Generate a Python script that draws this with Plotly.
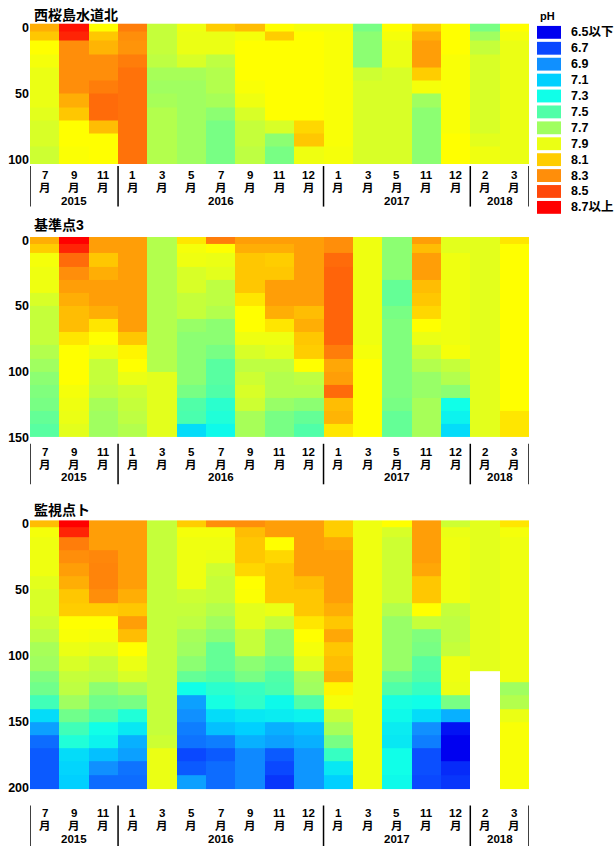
import plotly.graph_objects as go

# ---------------- data ----------------
months = ["7", "9", "11", "1", "3", "5", "7", "9", "11", "12", "1", "3", "5", "11", "12", "2", "3"]
years = ["2015"] * 3 + ["2016"] * 7 + ["2017"] * 5 + ["2018"] * 2

legend_labels = ["6.5以下", "6.7", "6.9", "7.1", "7.3", "7.5", "7.7", "7.9", "8.1", "8.3", "8.5", "8.7以上"]
legend_values = [6.5, 6.7, 6.9, 7.1, 7.3, 7.5, 7.7, 7.9, 8.1, 8.3, 8.5, 8.7]
legend_colors = ["rgb(0,0,240)", "rgb(10,72,255)", "rgb(16,144,255)", "rgb(0,208,255)",
                 "rgb(16,255,232)", "rgb(80,255,168)", "rgb(160,255,96)", "rgb(235,255,20)",
                 "rgb(255,205,0)", "rgb(255,142,10)", "rgb(255,72,10)", "rgb(255,0,0)"]

titles = ["西桜島水道北", "基準点3", "監視点ト"]

# depth cell edges (m)
depth_edges_1 = [-3, 3, 10, 20, 30, 40, 50, 60, 70, 80, 90, 103]
depth_edges_2 = [-2.5, 3, 10, 20, 30, 40, 50, 60, 70, 80, 90, 100, 110, 120, 130, 140, 150]
depth_edges_3 = [-2.5, 3, 10, 20, 30, 40, 50, 60, 70, 80, 90, 100, 112, 120, 130, 140, 150,
                 160, 170, 180, 190, 201]

# pH per sampling month (top -> bottom), 西桜島水道北
ph_1 = [
    [8.2, 8.12, 8.0, 7.95, 7.9, 7.9, 7.9, 7.88, 7.85, 7.85, 7.82],
    [8.65, 8.6, 8.3, 8.3, 8.3, 8.3, 8.2, 8.12, 8.0, 8.0, 7.98],
    [8.0, 8.12, 8.18, 8.3, 8.3, 8.35, 8.4, 8.4, 8.15, 8.0, 8.0],
    [8.35, 8.3, 8.28, 8.35, 8.38, 8.38, 8.38, 8.38, 8.38, 8.38, 8.38],
    [7.8, 7.8, 7.8, 7.78, 7.72, 7.7, 7.72, 7.75, 7.75, 7.75, 7.75],
    [7.92, 7.9, 7.9, 7.85, 7.72, 7.7, 7.7, 7.7, 7.7, 7.7, 7.7],
    [8.1, 7.9, 7.9, 7.78, 7.75, 7.75, 7.72, 7.65, 7.6, 7.6, 7.6],
    [8.15, 7.95, 8.0, 8.0, 8.0, 7.97, 7.92, 7.85, 7.8, 7.8, 7.78],
    [8.0, 8.1, 8.0, 8.0, 8.0, 8.0, 8.0, 8.0, 7.85, 7.65, 7.6],
    [7.95, 8.0, 8.0, 8.0, 8.0, 8.0, 8.0, 8.0, 8.08, 8.12, 7.92],
    [7.95, 7.97, 7.97, 7.97, 7.97, 7.97, 7.97, 7.97, 7.97, 7.97, 7.95],
    [7.6, 7.65, 7.65, 7.65, 7.82, 7.85, 7.85, 7.85, 7.85, 7.85, 7.85],
    [8.0, 7.95, 7.9, 7.9, 7.85, 7.85, 7.85, 7.85, 7.85, 7.85, 7.85],
    [8.1, 8.2, 8.25, 8.25, 8.1, 7.95, 7.7, 7.65, 7.65, 7.65, 7.65],
    [8.0, 8.0, 8.0, 7.97, 7.97, 7.97, 7.97, 7.97, 7.97, 8.0, 8.0],
    [7.6, 7.7, 7.8, 7.85, 7.85, 7.85, 7.85, 7.85, 7.85, 7.88, 7.92],
    [8.0, 7.95, 7.9, 7.9, 7.9, 7.9, 7.9, 7.9, 7.9, 7.9, 7.9],
]

# 基準点3
ph_2 = [
    [8.2, 8.1, 7.95, 7.92, 7.92, 7.85, 7.8, 7.8, 7.8, 7.75, 7.7, 7.65, 7.62, 7.6, 7.55, 7.52],
    [8.7, 8.6, 8.4, 8.3, 8.25, 8.2, 8.15, 8.15, 8.05, 8.0, 8.0, 8.0, 7.95, 7.92, 7.9, 7.88],
    [8.25, 8.25, 8.12, 8.2, 8.25, 8.25, 8.2, 8.05, 8.0, 7.9, 7.8, 7.8, 7.78, 7.72, 7.7, 7.7],
    [8.25, 8.25, 8.25, 8.25, 8.25, 8.25, 8.25, 8.25, 8.12, 8.02, 8.0, 7.9, 7.82, 7.8, 7.78, 7.75],
    [7.75, 7.75, 7.75, 7.75, 7.75, 7.75, 7.75, 7.75, 7.75, 7.75, 7.75, 7.88, 7.88, 7.88, 7.88, 7.88],
    [8.05, 7.95, 7.92, 7.85, 7.85, 7.8, 7.8, 7.68, 7.65, 7.65, 7.65, 7.65, 7.6, 7.5, 7.48, 7.15],
    [8.35, 8.0, 7.9, 7.88, 7.78, 7.78, 7.75, 7.65, 7.65, 7.6, 7.52, 7.52, 7.5, 7.38, 7.35, 7.28],
    [8.25, 8.2, 8.12, 8.12, 8.12, 8.05, 8.0, 8.0, 7.92, 7.85, 7.78, 7.82, 7.85, 7.82, 7.72, 7.72],
    [8.25, 8.2, 8.1, 8.12, 8.25, 8.25, 8.2, 8.05, 7.92, 7.88, 7.78, 7.75, 7.75, 7.68, 7.6, 7.6],
    [8.25, 8.25, 8.25, 8.25, 8.25, 8.25, 8.15, 8.2, 8.12, 8.1, 8.0, 7.78, 7.75, 7.65, 7.55, 7.5],
    [8.3, 8.3, 8.4, 8.42, 8.42, 8.42, 8.42, 8.42, 8.42, 8.35, 8.22, 8.25, 8.4, 8.15, 8.18, 8.05],
    [7.92, 7.92, 7.92, 7.92, 7.92, 7.92, 7.92, 7.92, 7.92, 7.95, 8.0, 8.0, 8.0, 8.0, 8.0, 8.0],
    [7.65, 7.65, 7.65, 7.65, 7.55, 7.55, 7.6, 7.62, 7.62, 7.62, 7.62, 7.62, 7.62, 7.6, 7.55, 7.55],
    [8.25, 8.15, 8.25, 8.25, 8.15, 8.12, 8.08, 8.0, 7.9, 7.82, 7.75, 7.68, 7.68, 7.72, 7.72, 7.72],
    [7.88, 7.88, 7.92, 7.92, 7.92, 7.92, 7.92, 7.92, 7.92, 7.95, 7.8, 7.75, 7.65, 7.3, 7.25, 7.15],
    [7.88, 7.88, 7.88, 7.88, 7.88, 7.88, 7.88, 7.88, 7.88, 7.88, 7.88, 7.88, 7.88, 7.88, 7.88, 7.88],
    [8.05, 8.0, 8.0, 8.0, 8.0, 8.0, 8.0, 8.0, 8.0, 8.0, 8.0, 8.0, 8.0, 8.0, 8.05, 8.05],
]

# 監視点ト
ph_3 = [
    [8.15, 7.95, 7.92, 7.92, 7.92, 7.88, 7.85, 7.85, 7.82, 7.78, 7.72, 7.7, 7.62, 7.58, 7.45, 7.15, 6.95, 6.8, 6.75, 6.75, 6.75],
    [8.7, 8.6, 8.35, 8.3, 8.25, 8.2, 8.12, 8.1, 8.0, 7.97, 7.9, 7.85, 7.8, 7.78, 7.7, 7.58, 7.45, 7.35, 7.15, 7.12, 7.1],
    [8.25, 8.25, 8.25, 8.32, 8.33, 8.33, 8.3, 8.1, 8.0, 7.95, 7.88, 7.8, 7.78, 7.65, 7.58, 7.5, 7.3, 7.25, 7.05, 6.9, 6.8],
    [8.25, 8.25, 8.25, 8.25, 8.25, 8.25, 8.2, 8.12, 8.25, 8.15, 8.0, 7.9, 7.85, 7.72, 7.6, 7.35, 7.2, 7.0, 6.95, 6.82, 6.8],
    [7.8, 7.8, 7.8, 7.8, 7.8, 7.8, 7.8, 7.8, 7.8, 7.8, 7.8, 7.8, 7.8, 7.8, 7.8, 7.8, 7.8, 7.82, 7.9, 7.9, 7.9],
    [8.1, 7.95, 7.92, 7.92, 7.92, 7.92, 7.82, 7.8, 7.78, 7.72, 7.7, 7.65, 7.55, 7.3, 6.95, 6.9, 6.85, 6.82, 6.7, 6.75, 6.95],
    [8.3, 7.95, 7.92, 7.9, 7.82, 7.8, 7.8, 7.75, 7.7, 7.65, 7.55, 7.55, 7.5, 7.38, 7.32, 7.15, 7.05, 6.85, 6.75, 6.8, 6.8],
    [8.3, 8.15, 8.12, 8.12, 8.08, 8.0, 7.98, 7.88, 7.88, 7.8, 7.8, 7.65, 7.6, 7.42, 7.4, 7.2, 7.1, 7.0, 6.88, 6.88, 6.88],
    [8.25, 8.25, 8.0, 8.08, 8.12, 8.12, 8.12, 7.9, 7.8, 7.65, 7.65, 7.58, 7.5, 7.48, 7.28, 7.22, 7.0, 6.95, 6.75, 6.7, 6.65],
    [8.25, 8.25, 8.25, 8.25, 8.25, 8.15, 8.12, 8.12, 8.05, 8.0, 7.95, 7.88, 7.72, 7.7, 7.5, 7.25, 7.05, 7.0, 6.92, 6.92, 6.92],
    [8.1, 8.1, 8.22, 8.25, 8.25, 8.25, 8.25, 8.2, 8.12, 8.22, 8.12, 8.15, 8.2, 8.02, 7.95, 7.8, 7.72, 7.6, 7.42, 7.2, 7.1],
    [7.92, 7.92, 7.92, 7.92, 7.92, 7.92, 7.92, 7.92, 7.92, 7.92, 7.92, 7.92, 7.92, 7.92, 7.92, 7.92, 7.92, 7.92, 7.92, 7.92, 7.92],
    [8.0, 7.85, 7.82, 7.82, 7.82, 7.82, 7.82, 7.75, 7.68, 7.68, 7.68, 7.68, 7.58, 7.5, 7.32, 7.28, 7.22, 7.2, 7.3, 7.3, 7.28],
    [8.25, 8.25, 8.25, 8.25, 8.22, 8.12, 8.12, 8.0, 7.8, 7.62, 7.6, 7.52, 7.5, 7.42, 7.3, 7.15, 6.9, 6.85, 6.72, 6.72, 6.7],
    [7.82, 7.9, 7.92, 7.92, 7.92, 7.92, 7.92, 7.8, 7.78, 7.78, 7.8, 7.92, 7.92, 7.9, 7.6, 7.0, 6.55, 6.5, 6.5, 6.62, 6.65],
    [7.88, 7.88, 7.88, 7.88, 7.88, 7.88, 7.88, 7.88, 7.88, 7.88, 7.88, 7.88, None, None, None, None, None, None, None, None, None],
    [8.05, 7.95, 7.92, 7.92, 7.92, 7.92, 7.92, 7.92, 7.92, 7.92, 7.92, 7.92, 7.92, 7.7, 7.75, 7.9, 7.97, 7.97, 7.97, 7.97, 7.97],
]

y_ticks_1 = [0, 50, 100]
y_ticks_2 = [0, 50, 100, 150]
y_ticks_3 = [0, 50, 100, 150, 200]

# ---------------- layout helpers ----------------
W, H = 616, 855
FONT = "Liberation Sans, Arial, Noto Sans CJK JP, sans-serif"
LBL = 11.5


def px_x(x):
    return x / W


def px_y(y):
    return 1 - y / H


ZMIN, ZMAX = legend_values[0], legend_values[-1]
stops = [((v - ZMIN) / (ZMAX - ZMIN), c) for v, c in zip(legend_values, legend_colors)]
stops.append(((8.0 - ZMIN) / (ZMAX - ZMIN), "rgb(255,255,0)"))
colorscale = [list(s) for s in sorted(stops)]

panels = [
    dict(ph=ph_1, edges=depth_edges_1, ticks=y_ticks_1, top=20.7, bottom=163.0,
         title_y=12.5, row_y=(174, 187, 200), sep=(165, 206)),
    dict(ph=ph_2, edges=depth_edges_2, ticks=y_ticks_2, top=236.7, bottom=439.5,
         title_y=224.5, row_y=(454, 467, 480), sep=(446, 487)),
    dict(ph=ph_3, edges=depth_edges_3, ticks=y_ticks_3, top=523.3, bottom=795.7,
         title_y=512.5, row_y=(820, 833, 846), sep=(812, 853)),
]

X_LEFT, X_RIGHT = 30.0, 529.0
ncol = len(months)
xs = list(range(ncol))

fig = go.Figure()
layout = dict(width=W, height=H, margin=dict(l=0, r=0, t=0, b=0),
              paper_bgcolor="white", plot_bgcolor="white", showlegend=False,
              font=dict(family=FONT, color="black", size=12))
annotations = []
shapes = []

groups = []
start = 0
for i in range(1, ncol + 1):
    if i == ncol or years[i] != years[start]:
        groups.append((years[start], start, i - 1))
        start = i

for k, p in enumerate(panels):
    idx = "" if k == 0 else str(k + 1)
    nrow = len(p["edges"]) - 1
    z = [[p["ph"][c][r] for c in range(ncol)] for r in range(nrow)]
    fig.add_trace(go.Heatmap(
        x=xs, y=p["edges"], z=z, zmin=ZMIN, zmax=ZMAX, colorscale=colorscale,
        showscale=False, xaxis="x" + idx, yaxis="y" + idx, hoverongaps=False,
        connectgaps=False))
    layout["xaxis" + idx] = dict(domain=[px_x(X_LEFT), px_x(X_RIGHT)], range=[-0.5, ncol - 0.5],
                                 showticklabels=False, showgrid=False, zeroline=False,
                                 showline=False, ticks="", anchor="y" + idx)
    layout["yaxis" + idx] = dict(domain=[px_y(p["bottom"]), px_y(p["top"])],
                                 range=[p["edges"][-1], p["edges"][0]],
                                 tickvals=p["ticks"], ticktext=["<b>%d</b>" % t for t in p["ticks"]],
                                 tickfont=dict(size=12.5, family=FONT, color="black"),
                                 showgrid=False, zeroline=False, showline=False, ticks="",
                                 anchor="x" + idx)
    xref = "x" + idx
    annotations.append(dict(text="<b>%s</b>" % titles[k], xref="paper", yref="paper",
                            x=px_x(32), y=px_y(p["title_y"]), xanchor="left", yanchor="middle",
                            showarrow=False, font=dict(size=14, family=FONT, color="black")))
    for i, m in enumerate(months):
        annotations.append(dict(text="<b>%s</b>" % m, xref=xref, yref="paper", x=i,
                                y=px_y(p["row_y"][0]), xanchor="center", yanchor="middle",
                                showarrow=False, font=dict(size=LBL, family=FONT)))
        annotations.append(dict(text="<b>月</b>", xref=xref, yref="paper", x=i,
                                y=px_y(p["row_y"][1]), xanchor="center", yanchor="middle",
                                showarrow=False, font=dict(size=LBL, family=FONT)))
    for (yr, a, b) in groups:
        annotations.append(dict(text="<b>%s</b>" % yr, xref=xref, yref="paper", x=(a + b) / 2,
                                y=px_y(p["row_y"][2]), xanchor="center", yanchor="middle",
                                showarrow=False, font=dict(size=LBL, family=FONT)))
    bounds = [g[1] - 0.5 for g in groups] + [groups[-1][2] + 0.5]
    for xb in bounds:
        shapes.append(dict(type="line", xref=xref, yref="paper", x0=xb, x1=xb,
                           y0=px_y(p["sep"][0]), y1=px_y(p["sep"][1]),
                           line=dict(color="black", width=1.5)))

# legend (pH colour key)
annotations.append(dict(text="<b>pH</b>", xref="paper", yref="paper", x=px_x(538), y=px_y(13),
                        xanchor="left", yanchor="middle", showarrow=False,
                        font=dict(size=11, family=FONT)))
for j, (lab, col) in enumerate(zip(legend_labels, legend_colors)):
    yc = 29.7 + j * 16.1
    shapes.append(dict(type="rect", xref="paper", yref="paper", x0=px_x(537), x1=px_x(561),
                       y0=px_y(yc + 6.5), y1=px_y(yc - 6.5), fillcolor=col,
                       line=dict(width=0)))
    annotations.append(dict(text="<b>%s</b>" % lab, xref="paper", yref="paper", x=px_x(569),
                            y=px_y(yc), xanchor="left", yanchor="middle", showarrow=False,
                            font=dict(size=12.5, family=FONT)))

layout["annotations"] = annotations
layout["shapes"] = shapes
fig.update_layout(**layout)
fig.write_html("out.html")
